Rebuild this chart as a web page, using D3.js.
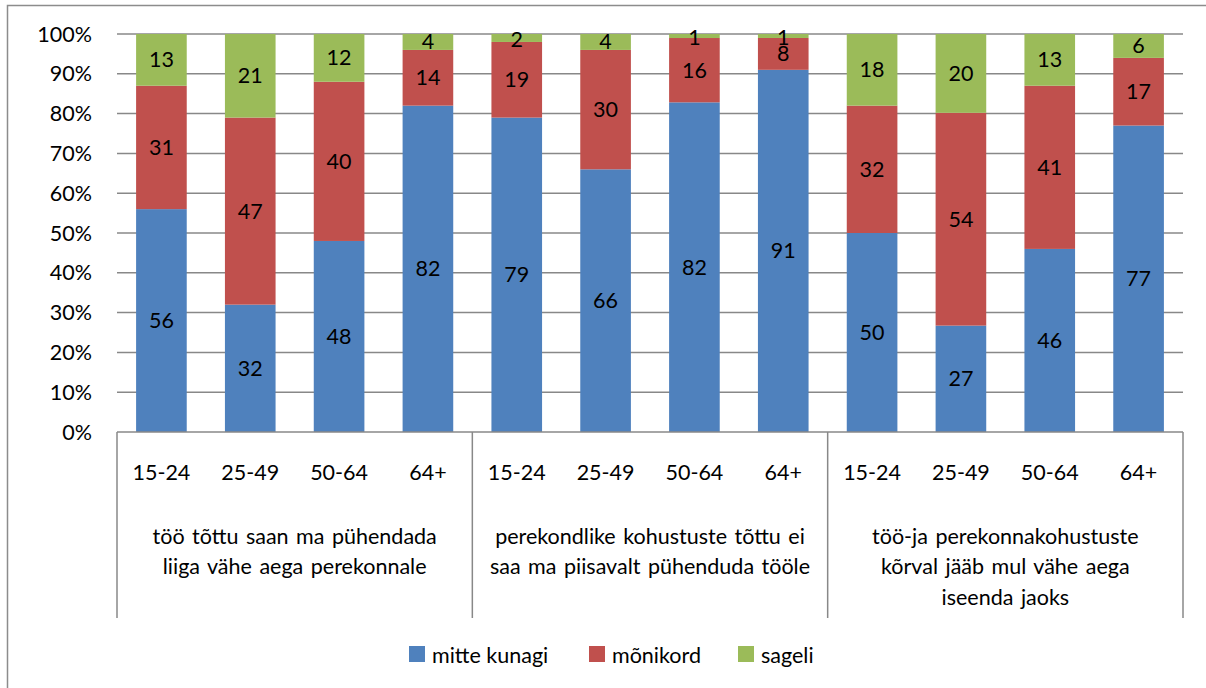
<!DOCTYPE html>
<html><head><meta charset="utf-8">
<script src="https://cdn.jsdelivr.net/npm/d3@7"></script>
<style>body{margin:0;background:#fff}svg{display:block}text{font-family:Lato,"Open Sans",sans-serif;fill:#000}</style>
</head><body><svg id="c" width="1206" height="688"></svg>
<script>
const ageGroups = ["15-24","25-49","50-64","64+"];
const groupLabels = [
  ["töö tõttu saan ma pühendada","liiga vähe aega perekonnale"],
  ["perekondlike kohustuste tõttu ei","saa ma piisavalt  pühenduda tööle"],
  ["töö-ja perekonnakohustuste","kõrval jääb mul vähe aega","iseenda jaoks"]
];
const seriesNames = ["mitte kunagi","mõnikord","sageli"];
const mitteKunagi = [56,32,48,82, 79,66,82,91, 50,27,46,77];
const monikord    = [31,47,40,14, 19,30,16,8, 32,54,41,17];
const sageli      = [13,21,12,4, 2,4,1,1, 18,20,13,6];
const yTicks = [0,0.1,0.2,0.3,0.4,0.5,0.6,0.7,0.8,0.9,1];
const colors = ["#4F81BD","#C0504D","#9BBB59"];

const FS = 21.5;
const svg = d3.select("#c");
const L=117, R=1183, T=34, B=432;
const ids = d3.range(12);
const rows = ids.map(i => ({id:i, g:Math.floor(i/4), age:ageGroups[i%4], v:[mitteKunagi[i],monikord[i],sageli[i]]}));
const x = d3.scaleBand().domain(ids).range([L,R]).paddingInner(0.43).paddingOuter(0.215);
const y = d3.scaleLinear().domain([0,1]).range([B,T]);
const color = d3.scaleOrdinal().domain(seriesNames).range(colors);

// outer frame
svg.append("rect").attr("x",7.5).attr("y",5.5).attr("width",1210).attr("height",700)
  .attr("fill","none").attr("stroke","#8c8c8c").attr("stroke-width",1.5);

// gridlines
svg.append("g").selectAll("line").data(yTicks.slice(1)).join("line")
  .attr("x1",L).attr("x2",R).attr("y1",d=>y(d)).attr("y2",d=>y(d))
  .attr("stroke","#888").attr("stroke-width",1.5);

// y labels
svg.append("g").selectAll("text").data(yTicks).join("text")
  .attr("x",92).attr("y",d=>y(d)).attr("dy","0.35em").attr("text-anchor","end")
  .attr("font-size",FS).text(d3.format(".0%"));

// stacked bars
const stackData = rows.map(r => { const s=d3.sum(r.v); return {id:r.id, a:r.v[0]/s, b:r.v[1]/s, c:r.v[2]/s, raw:r.v}; });
const stack = d3.stack().keys(["a","b","c"]);
const layers = stack(stackData);
layers.forEach((layer,li) => {
  const g = svg.append("g");
  g.selectAll("rect").data(layer).join("rect")
    .attr("x",d=>x(d.data.id)).attr("width",x.bandwidth())
    .attr("y",d=>y(d[1])).attr("height",d=>y(d[0])-y(d[1]))
    .attr("fill",colors[li]);
});
layers.forEach((layer,li) => {
  svg.append("g").selectAll("text").data(layer).join("text")
    .attr("x",d=>x(d.data.id)+x.bandwidth()/2)
    .attr("y",d=>y((d[0]+d[1])/2) + ((d[1]-d[0]) < 0.03 && li===2 ? 1 : 0))
    .attr("dy","0.35em").attr("text-anchor","middle").attr("font-size",FS)
    .text(d=>d.data.raw[li]);
});

// bottom axis line & separators
svg.append("line").attr("x1",L).attr("x2",R).attr("y1",B).attr("y2",B).attr("stroke","#888").attr("stroke-width",1.5);
const step = x.step();
const seps = [0,4,8].map(i => i===0 ? L : x(i) - step*0.43/2).concat([R]);
svg.append("g").selectAll("line").data(seps).join("line")
  .attr("x1",d=>d).attr("x2",d=>d).attr("y1",B).attr("y2",618)
  .attr("stroke","#888").attr("stroke-width",1.5);

// age labels
svg.append("g").selectAll("text").data(rows).join("text")
  .attr("x",d=>x(d.id)+x.bandwidth()/2).attr("y",472).attr("dy","0.35em")
  .attr("text-anchor","middle").attr("font-size",FS).text(d=>d.age);

// group labels
groupLabels.forEach((lines,gi) => {
  const cx = (seps[gi]+seps[gi+1])/2;
  svg.append("g").selectAll("text").data(lines).join("text")
    .attr("x",cx).attr("y",(d,i)=>536+i*30.5).attr("dy","0.35em")
    .attr("text-anchor","middle").attr("font-size",FS).attr("word-spacing",2)
    .text(d=>d);
});

// legend
const legX = [409,589,738];
const lg = svg.append("g");
seriesNames.forEach((n,i) => {
  lg.append("rect").attr("x",legX[i]).attr("y",646).attr("width",16).attr("height",16).attr("fill",color(n));
  lg.append("text").attr("x",legX[i]+23).attr("y",655).attr("dy","0.35em").attr("font-size",FS).text(n);
});
</script></body></html>
